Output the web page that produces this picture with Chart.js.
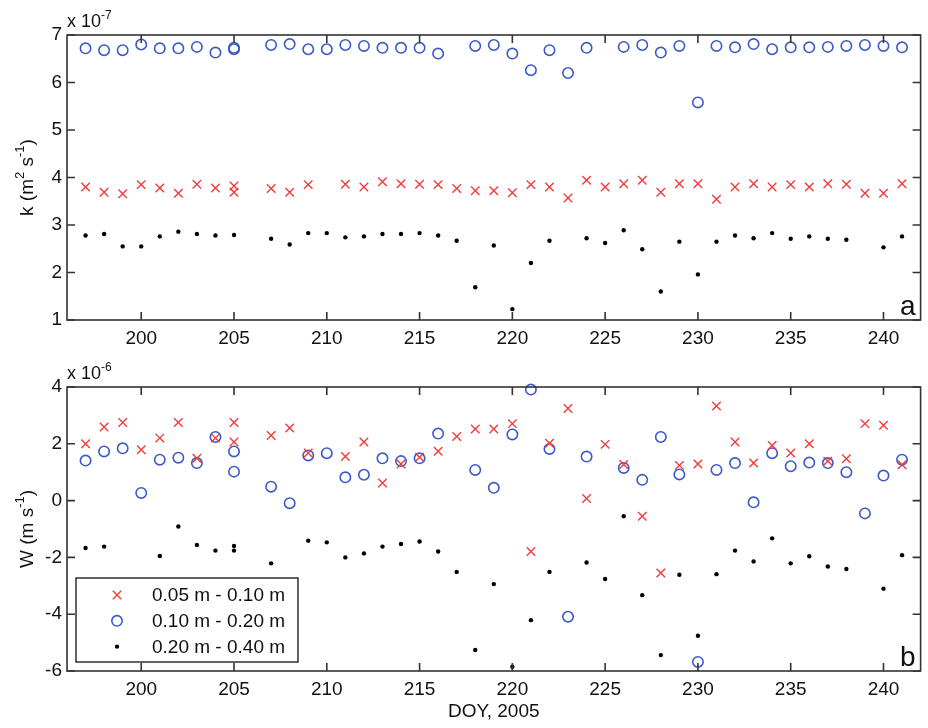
<!DOCTYPE html>
<html>
<head>
<meta charset="utf-8">
<script src="https://cdn.jsdelivr.net/npm/chart.js@4.4.1/dist/chart.umd.min.js"></script>
<style>
  html, body { margin: 0; padding: 0; background: #fff; }
  #wrap { position: relative; width: 928px; height: 728px; }
  canvas { position: absolute; left: 0; }
  #topChart { top: 0; }
  #botChart { top: 355px; }
</style>
</head>
<body>
<div id="wrap">
  <canvas id="topChart" width="928" height="355"></canvas>
  <canvas id="botChart" width="928" height="373"></canvas>
</div>
<script>
// day of year (205 appears twice, 206 has no data)
let days = [197, 198, 199, 200, 201, 202, 203, 204, 205, 205,
  207, 208, 209, 210, 211, 212, 213, 214, 215, 216, 217, 218, 219, 220,
  221, 222, 223, 224, 225, 226, 227, 228, 229, 230, 231, 232, 233, 234,
  235, 236, 237, 238, 239, 240, 241];
let xTicks = [200, 205, 210, 215, 220, 225, 230, 235, 240];
let seriesNames = ['0.05 m - 0.10 m', '0.10 m - 0.20 m', '0.20 m - 0.40 m'];

// panel a: k, x 10^-7 m2/s
let k1 = [3.80, 3.69, 3.66, 3.85, 3.78, 3.67, 3.86, 3.78, 3.82, 3.69,
  3.77, 3.69, 3.85, null, 3.86, 3.80, 3.91, 3.87, 3.86, 3.85, 3.77, 3.72, 3.72, 3.68,
  3.85, 3.80, 3.57, 3.94, 3.80, 3.87, 3.94, 3.69, 3.87, 3.87, 3.54, 3.80, 3.87, 3.80,
  3.85, 3.80, 3.87, 3.86, 3.67, 3.67, 3.87];
let k2 = [6.72, 6.68, 6.68, 6.80, 6.72, 6.72, 6.75, 6.63, 6.73, 6.70,
  6.79, 6.81, 6.70, 6.70, 6.79, 6.77, 6.73, 6.73, 6.73, 6.61, null, 6.77, 6.79, 6.61,
  6.26, 6.68, 6.20, 6.73, null, 6.75, 6.79, 6.63, 6.77, 5.58, 6.77, 6.74, 6.81, 6.70,
  6.74, 6.74, 6.75, 6.77, 6.79, 6.77, 6.74];
let k3 = [2.78, 2.81, 2.55, 2.55, 2.76, 2.86, 2.81, 2.78, 2.79, null,
  2.71, 2.59, 2.83, 2.83, 2.74, 2.76, 2.81, 2.81, 2.83, 2.78, 2.67, 1.69, 2.57, 1.23,
  2.20, 2.67, null, 2.72, 2.62, 2.89, 2.49, 1.60, 2.65, 1.96, 2.65, 2.78, 2.72, 2.83,
  2.71, 2.76, 2.71, 2.69, null, 2.53, 2.76];

// panel b: W, x 10^-6 m/s
let w1 = [2.00, 2.59, 2.75, 1.79, 2.20, 2.75, 1.49, 2.20, 2.75, 2.06,
  2.29, 2.56, 1.68, null, 1.55, 2.06, 0.62, 1.29, 1.53, 1.74, 2.26, 2.52, 2.52, 2.71,
  -1.79, 2.02, 3.24, 0.07, 1.98, 1.27, -0.55, -2.55, 1.24, 1.29, 3.33, 2.06, 1.32, 1.94,
  1.68, 2.00, 1.39, 1.47, 2.71, 2.65, 1.26];
let w2 = [1.41, 1.73, 1.84, 0.27, 1.44, 1.51, 1.32, 2.24, 1.73, 1.02,
  0.49, -0.09, 1.59, 1.67, 0.82, 0.91, 1.49, 1.39, 1.49, 2.36, null, 1.08, 0.45, 2.33,
  3.91, 1.82, -4.09, 1.55, null, 1.15, 0.73, 2.24, 0.92, -5.68, 1.08, 1.32, -0.06, 1.67,
  1.21, 1.34, 1.32, 1.00, -0.45, 0.88, 1.44];
let w3 = [-1.67, -1.62, null, null, -1.95, -0.91, -1.56, -1.76, -1.60, -1.76,
  -2.21, null, -1.41, -1.47, -2.00, -1.86, -1.62, -1.53, -1.44, -1.79, -2.51, -5.26, -2.94, -5.85,
  -4.21, -2.51, null, -2.18, -2.76, -0.55, -3.33, -5.44, -2.61, -4.76, -2.59, -1.76, -2.14, -1.33,
  -2.21, -1.96, -2.32, -2.41, null, -3.10, -1.92];

let FONT = '"Liberation Sans", Arial, Helvetica, sans-serif';
Chart.defaults.font.family = FONT;
Chart.defaults.font.size = 19;
Chart.defaults.color = '#111';

let red = '#f03c3c';
let blue = '#3a5ac8';

function pts(vals) {
  return days.map((d, i) => ({ x: d, y: vals[i] })).filter(p => p.y !== null);
}

function makeSets(a, b, c) {
  return [
    { label: seriesNames[0], data: pts(a), pointStyle: 'crossRot', pointRadius: 6,
      borderColor: red, backgroundColor: red, pointBorderWidth: 1.4 },
    { label: seriesNames[1], data: pts(b), pointStyle: 'circle', pointRadius: 5.2,
      borderColor: blue, backgroundColor: 'rgba(0,0,0,0)', pointBorderWidth: 1.6 },
    { label: seriesNames[2], data: pts(c), pointStyle: 'circle', pointRadius: 2.2,
      borderColor: '#000', backgroundColor: '#000', pointBorderWidth: 0 }
  ].map(s => Object.assign(s, { showLine: false, clip: false, pointHoverRadius: s.pointRadius }));
}

// draw text runs with superscripts, starting at x along the baseline
function drawRuns(ctx, runs, x, y, size) {
  runs.forEach(r => {
    let sup = r[1];
    ctx.font = (sup ? Math.round(size * 0.68) : size) + 'px ' + FONT;
    ctx.fillText(r[0], x, sup ? y - size * 0.45 : y);
    x += ctx.measureText(r[0]).width;
  });
  return x;
}
function runsWidth(ctx, runs, size) {
  let w = 0;
  runs.forEach(r => {
    ctx.font = (r[1] ? Math.round(size * 0.68) : size) + 'px ' + FONT;
    w += ctx.measureText(r[0]).width;
  });
  return w;
}

// box frame with inward ticks on all sides, exponent, y title and panel letter
let frame = {
  id: 'frame',
  afterDatasetsDraw(chart, args, opts) {
    let { ctx, chartArea: a, scales: { x, y } } = chart;
    ctx.save();
    ctx.strokeStyle = '#333';
    ctx.lineWidth = 1.6;
    ctx.strokeRect(a.left, a.top, a.right - a.left, a.bottom - a.top);
    ctx.beginPath();
    let len = 8;
    x.ticks.forEach(t => {
      let px = x.getPixelForValue(t.value);
      ctx.moveTo(px, a.bottom); ctx.lineTo(px, a.bottom - len);
      ctx.moveTo(px, a.top); ctx.lineTo(px, a.top + len);
    });
    y.ticks.forEach(t => {
      let py = y.getPixelForValue(t.value);
      ctx.moveTo(a.left, py); ctx.lineTo(a.left + len, py);
      ctx.moveTo(a.right, py); ctx.lineTo(a.right - len, py);
    });
    ctx.stroke();

    ctx.fillStyle = '#111';
    ctx.textAlign = 'left';
    ctx.textBaseline = 'alphabetic';
    drawRuns(ctx, [['x 10', false], [opts.exp, true]], a.left, a.top - 8, 18);

    // rotated y title
    let size = 19;
    let tw = runsWidth(ctx, opts.yTitle, size);
    ctx.save();
    ctx.translate(33, (a.top + a.bottom) / 2);
    ctx.rotate(-Math.PI / 2);
    drawRuns(ctx, opts.yTitle, -tw / 2, 0, size);
    ctx.restore();

    ctx.font = '28px ' + FONT;
    ctx.textAlign = 'right';
    ctx.fillText(opts.letter, a.right - 5, a.bottom - 5);
    ctx.restore();
  }
};

// boxed legend in lower-left of panel b
let boxLegend = {
  id: 'boxLegend',
  afterDraw(chart) {
    let { ctx, chartArea: a } = chart;
    let bx = a.left + 9, bw = 222, bh = 84, by = a.bottom - 9 - bh;
    ctx.save();
    ctx.fillStyle = '#fff';
    ctx.fillRect(bx, by, bw, bh);
    ctx.strokeStyle = '#111';
    ctx.lineWidth = 1.3;
    ctx.strokeRect(bx, by, bw, bh);
    chart.data.datasets.forEach((ds, i) => {
      let cy = by + 17 + i * 25.8;
      ctx.strokeStyle = ds.borderColor;
      ctx.fillStyle = ds.backgroundColor;
      ctx.lineWidth = ds.pointBorderWidth;
      Chart.helpers.drawPoint(ctx, { pointStyle: ds.pointStyle, radius: ds.pointRadius,
        borderWidth: ds.pointBorderWidth, rotation: 0 }, bx + 41, cy);
      ctx.fillStyle = '#111';
      ctx.font = '19px ' + FONT;
      ctx.textAlign = 'left';
      ctx.textBaseline = 'middle';
      ctx.fillText(ds.label, bx + 76, cy + 1);
    });
    ctx.restore();
  }
};

function makeChart(id, sets, yMin, yMax, yStep, yTitle, xTitle, padTop, xHeight, exp, letter, legend) {
  return new Chart(document.getElementById(id), {
    type: 'scatter',
    data: { datasets: sets },
    options: {
      responsive: false,
      animation: false,
      events: [],
      layout: { padding: { top: padTop, right: 1, left: 0, bottom: 0 } },
      plugins: {
        legend: { display: false },
        tooltip: { enabled: false },
        frame: { exp: exp, letter: letter, yTitle: yTitle }
      },
      scales: {
        x: {
          type: 'linear', min: 196, max: 242,
          afterBuildTicks: s => { s.ticks = xTicks.map(v => ({ value: v })); },
          grid: { display: false, drawTicks: false },
          border: { display: false },
          ticks: { padding: 7, maxRotation: 0 },
          title: { display: !!xTitle, text: xTitle, padding: { top: 0, bottom: 5 } },
          afterFit: s => { s.height = xHeight; }
        },
        y: {
          min: yMin, max: yMax,
          ticks: { stepSize: yStep, padding: 5 },
          grid: { display: false, drawTicks: false },
          border: { display: false },
          afterFit: s => { s.width = 67; }
        }
      }
    },
    plugins: legend ? [frame, boxLegend] : [frame]
  });
}

let kTitle = [['k (m', false], ['2', true], [' s', false], ['-1', true], [')', false]];
let wTitle = [['W (m s', false], ['-1', true], [')', false]];

makeChart('topChart', makeSets(k1, k2, k3), 1, 7, 1, kTitle, '', 35, 35, '-7', 'a', false);
makeChart('botChart', makeSets(w1, w2, w3), -6, 4, 2, wTitle, 'DOY, 2005', 32, 57, '-6', 'b', true);
</script>
</body>
</html>
